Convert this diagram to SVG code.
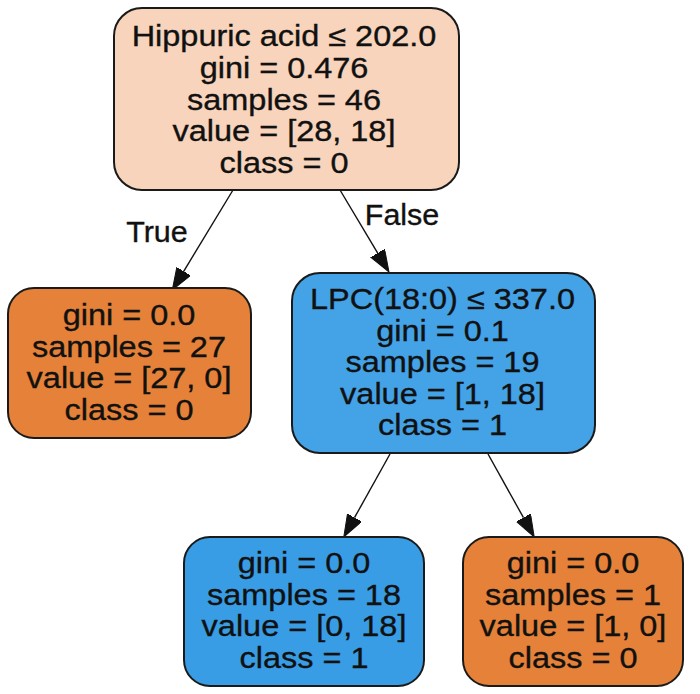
<svg xmlns="http://www.w3.org/2000/svg" width="700" height="694" viewBox="0 0 700 694">
<style>
.box{stroke:#1a1a1a;stroke-width:2}
.t{font-family:"Liberation Sans",Arial,sans-serif;font-size:29px;fill:#111;stroke:#111;stroke-width:0.35;text-anchor:middle}
.e{stroke:#111;stroke-width:1.4;fill:none;marker-end:url(#ah)}
</style>
<defs>
<marker id="ah" markerUnits="userSpaceOnUse" markerWidth="24" markerHeight="18" refX="0" refY="8" orient="auto">
<path d="M0,0 L22,8 L0,16 Z" fill="#111" stroke="#111" stroke-width="1"/>
</marker>
</defs>
<rect width="700" height="694" fill="#ffffff"/>
<g id="connectors">
<path class="e" d="M233,190 L183.7,271.3"/>
<path class="e" d="M340,190 L377.7,253.1"/>
<path class="e" d="M390,454 L354.5,517.7"/>
<path class="e" d="M488,454 L523.5,517.7"/>
<g transform="translate(157,242) scale(1.05,1)"><text class="t" x="0" y="0">True</text></g>
<g transform="translate(402,225) scale(1.05,1)"><text class="t" x="0" y="0">False</text></g>
</g>
<g id="node0">
<rect class="box" x="114" y="8" width="345" height="182" rx="28" fill="#f7d4bb"/>
<g transform="translate(284,0) scale(1.12,1)">
<text class="t" x="0" y="46.5">Hippuric acid ≤ 202.0</text>
<text class="t" x="0" y="78">gini = 0.476</text>
<text class="t" x="0" y="110">samples = 46</text>
<text class="t" x="0" y="141.5">value = [28, 18]</text>
<text class="t" x="0" y="173">class = 0</text>
</g>
</g>
<g id="node1">
<rect class="box" x="8" y="288" width="243" height="150" rx="26" fill="#e58139"/>
<g transform="translate(129,0) scale(1.12,1)">
<text class="t" x="0" y="325.5">gini = 0.0</text>
<text class="t" x="0" y="357">samples = 27</text>
<text class="t" x="0" y="388.5">value = [27, 0]</text>
<text class="t" x="0" y="420">class = 0</text>
</g>
</g>
<g id="node2">
<rect class="box" x="292" y="273" width="303" height="180" rx="28" fill="#44a2e6"/>
<g transform="translate(442.5,0) scale(1.12,1)">
<text class="t" x="0" y="309.5">LPC(18:0) ≤ 337.0</text>
<text class="t" x="0" y="341">gini = 0.1</text>
<text class="t" x="0" y="372.5">samples = 19</text>
<text class="t" x="0" y="404">value = [1, 18]</text>
<text class="t" x="0" y="435.5">class = 1</text>
</g>
</g>
<g id="node3">
<rect class="box" x="184" y="537" width="240" height="149" rx="26" fill="#399de5"/>
<g transform="translate(304,0) scale(1.12,1)">
<text class="t" x="0" y="573.5">gini = 0.0</text>
<text class="t" x="0" y="605">samples = 18</text>
<text class="t" x="0" y="636.5">value = [0, 18]</text>
<text class="t" x="0" y="668.5">class = 1</text>
</g>
</g>
<g id="node4">
<rect class="box" x="463" y="537" width="220" height="149" rx="26" fill="#e58139"/>
<g transform="translate(573,0) scale(1.12,1)">
<text class="t" x="0" y="573.5">gini = 0.0</text>
<text class="t" x="0" y="605">samples = 1</text>
<text class="t" x="0" y="636.5">value = [1, 0]</text>
<text class="t" x="0" y="668.5">class = 0</text>
</g>
</g>
</svg>
